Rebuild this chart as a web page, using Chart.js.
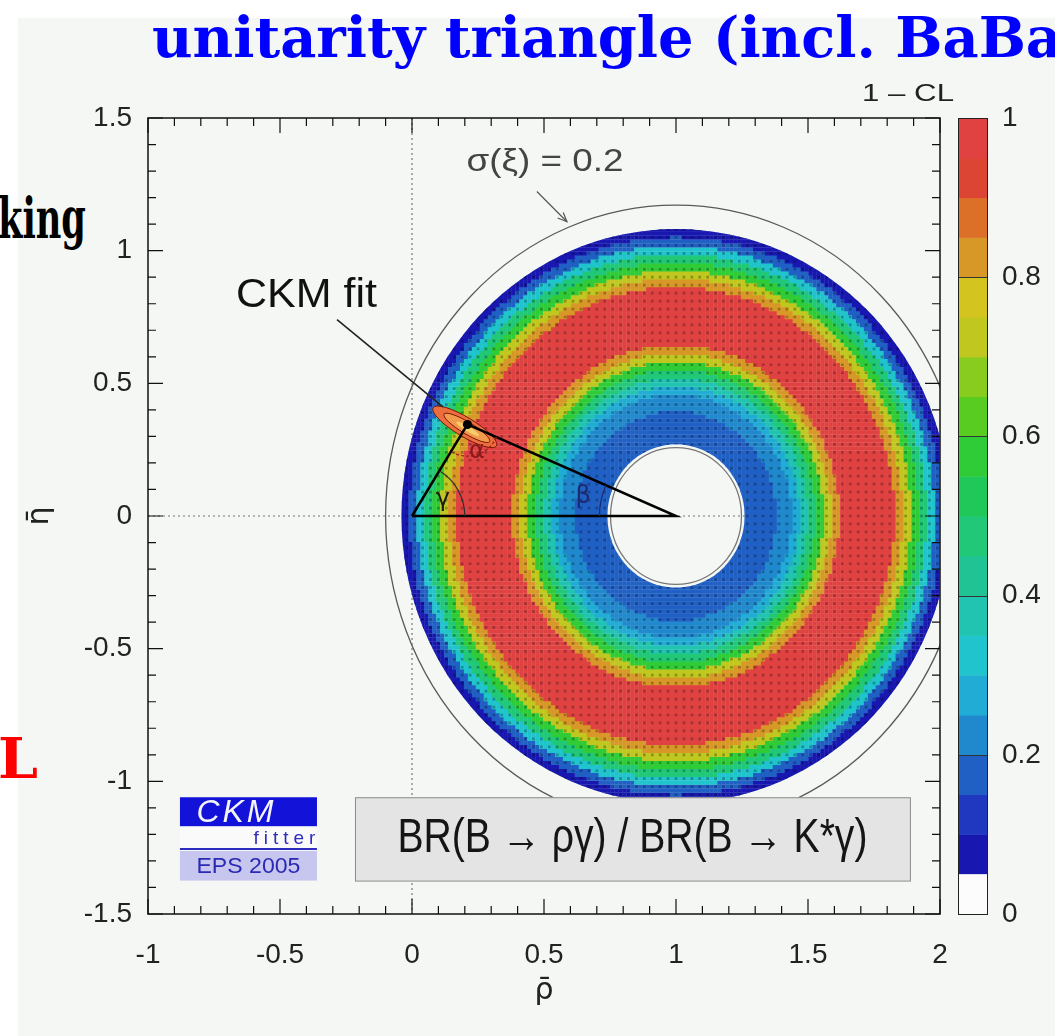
<!DOCTYPE html>
<html>
<head>
<meta charset="utf-8">
<title>CKM unitarity triangle</title>
<script src="https://cdn.jsdelivr.net/npm/chart.js@4.4.1/dist/chart.umd.min.js"></script>
<style>
html, body { margin: 0; padding: 0; background: #fff; }
#wrap { position: relative; width: 1055px; height: 1036px; overflow: hidden; }
#plate { position: absolute; left: 18px; top: 18px; width: 1037px; height: 1018px; background: #f4f7f3; }
#slide, #chart { position: absolute; left: 0; top: 0; }
</style>
</head>
<body>
<div id="wrap">
  <div id="plate"></div>
  <svg id="slide" width="1055" height="1036">
    <text x="152" y="57" font-family="DejaVu Serif" font-weight="bold" font-size="56" fill="#0000ff" textLength="910" lengthAdjust="spacingAndGlyphs">unitarity triangle (incl. BaBa</text>
    <text x="86" y="238" text-anchor="end" font-family="DejaVu Serif" font-weight="bold" font-size="56" fill="#000" textLength="88" lengthAdjust="spacingAndGlyphs">king</text>
    <text x="38" y="778" text-anchor="end" font-family="DejaVu Serif" font-weight="bold" font-size="56" fill="#ff0000" textLength="40" lengthAdjust="spacingAndGlyphs">L</text>
  </svg>
  <canvas id="chart" width="1055" height="1036"></canvas>
</div>
<script>
// axis ticks
var rhoTicks = [-1, -0.5, 0, 0.5, 1, 1.5, 2];
var etaTicks = [-1.5, -1, -0.5, 0, 0.5, 1, 1.5];
var clTicks = [0, 0.2, 0.4, 0.6, 0.8, 1];

// BR(B->rho gamma)/BR(B->K* gamma) ring around (1,0): 1-CL per radial bin
var ringCentre = [1, 0];
var ringInner = 0.26;
var ringBin = 0.03;
var ringCL = [0.15, 0.16, 0.17, 0.18, 0.20, 0.24, 0.29, 0.36, 0.46, 0.57, 0.70, 0.84, 0.96,
              1.0, 1.0, 1.0, 1.0, 1.0, 0.96, 0.83, 0.71, 0.58, 0.45, 0.31, 0.19, 0.09];

// CKM fit triangle (0,0) -> (1,0) -> apex -> (0,0)
var triangleRho = [0, 1, 0.21, 0];
var triangleEta = [0, 0, 0.345, 0];
var fitRho = [0.21];
var fitEta = [0.345];

// the plotted ring is a bit taller than wide
var ringStretch = 1.04;

// 20-level palette like the ROOT one, index = floor(20 * (1-CL))
var palette = ['rgba(0,0,0,0)', '#1818b0', '#2038c0', '#2060c4', '#2088cc', '#20acd4', '#20c4cc',
  '#20c4b0', '#20c494', '#20c878', '#20c85a', '#30cc38', '#58cc20', '#88cc20', '#c0c820',
  '#d4c420', '#d89828', '#dc7028', '#dc4434', '#e04242'];

function darker(hex, f) {
  if (hex.charAt(0) !== '#') return hex;
  var n = parseInt(hex.slice(1), 16);
  var r = Math.round(((n >> 16) & 255) * f), g = Math.round(((n >> 8) & 255) * f), b = Math.round((n & 255) * f);
  return 'rgb(' + r + ',' + g + ',' + b + ')';
}

function binColour(dx, dy) {
  var r = Math.hypot(dx, dy / ringStretch);
  if (r < ringInner - ringBin || r > ringInner + (ringCL.length + 1) * ringBin) return null;
  var k = Math.floor((r - ringInner) / ringBin);
  k = Math.max(0, Math.min(ringCL.length - 1, k));
  return palette[Math.min(19, Math.floor(ringCL[k] * 20))];
}

// fine cells for the colour, coarser lattice of darker dots like the scanned grid
var cells = [], cellColours = [];
var half = ringBin / 2;
for (var i = -80; i <= 80; i++) {
  for (var j = -80; j <= 80; j++) {
    var col = binColour(i * half, j * half);
    if (!col) continue;
    cells.push({x: ringCentre[0] + i * half, y: ringCentre[1] + j * half});
    cellColours.push(col);
  }
}
var dots = [], dotColours = [];
for (var m = -40; m <= 40; m++) {
  for (var q = -40; q <= 40; q++) {
    var c2 = binColour(m * ringBin, q * ringBin);
    if (!c2) continue;
    dots.push({x: ringCentre[0] + m * ringBin, y: ringCentre[1] + q * ringBin});
    dotColours.push(darker(c2, 0.72));
  }
}

var triangle = triangleRho.map(function (v, n) { return {x: v, y: triangleEta[n]}; });
var fit = fitRho.map(function (v, n) { return {x: v, y: fitEta[n]}; });

function P(chart, rho, eta) {
  return [chart.scales.x.getPixelForValue(rho), chart.scales.y.getPixelForValue(eta)];
}
function lenX(chart, d) {
  return chart.scales.x.getPixelForValue(d) - chart.scales.x.getPixelForValue(0);
}
function ringEllipse(ctx, chart, r, stretch) {
  var c = P(chart, ringCentre[0], ringCentre[1]);
  var rx = lenX(chart, r);
  var ry = chart.scales.y.getPixelForValue(0) - chart.scales.y.getPixelForValue(r * (stretch || ringStretch));
  ctx.moveTo(c[0] + rx, c[1]);
  ctx.ellipse(c[0], c[1], rx, ry, 0, 0, 2 * Math.PI);
}
function fitText(ctx, str, x, y, font, width, colour) {
  ctx.save();
  ctx.font = font;
  ctx.fillStyle = colour;
  ctx.textAlign = 'center';
  ctx.textBaseline = 'middle';
  var w = ctx.measureText(str).width;
  ctx.translate(x, y);
  if (width) ctx.scale(width / w, 1);
  ctx.fillText(str, 0, 0);
  ctx.restore();
}

var ringOuter = ringInner + ringCL.length * ringBin;

var ckmPlugin = {
  id: 'ckm',
  beforeDatasetsDraw: function (chart) {
    var ctx = chart.ctx, a = chart.chartArea;
    var o = P(chart, 0, 0);
    ctx.save();
    ctx.strokeStyle = '#777';
    ctx.lineWidth = 1.2;
    ctx.setLineDash([2, 3]);
    ctx.beginPath();
    ctx.moveTo(o[0], a.top); ctx.lineTo(o[0], a.bottom);
    ctx.moveTo(a.left, o[1]); ctx.lineTo(a.right, o[1]);
    ctx.stroke();
    ctx.restore();
  },
  beforeDatasetDraw: function (chart, args) {
    if (args.index > 1) return;
    var ctx = chart.ctx;
    ctx.save();
    ctx.beginPath();
    ringEllipse(ctx, chart, ringOuter);
    ringEllipse(ctx, chart, ringInner);
    ctx.clip('evenodd');
  },
  afterDatasetDraw: function (chart, args) {
    if (args.index > 1) return;
    var ctx = chart.ctx, a = chart.chartArea;
    ctx.restore();
    if (args.index !== 1) return;
    // thin circles
    ctx.save();
    ctx.beginPath();
    ctx.rect(a.left, a.top, a.right - a.left, a.bottom - a.top);
    ctx.clip();
    ctx.strokeStyle = '#5a5a5a';
    ctx.lineWidth = 1.3;
    ctx.beginPath(); ringEllipse(ctx, chart, 1.10, 1.065); ctx.stroke();
    ctx.strokeStyle = '#777';
    ctx.beginPath(); ringEllipse(ctx, chart, 0.248); ctx.stroke();
    // CKM fit region
    var c = P(chart, 0.20, 0.336);
    var e = P(chart, 0.20 + 0.14 * Math.cos(-0.54), 0.336 + 0.14 * Math.sin(-0.54));
    var rot = Math.atan2(e[1] - c[1], e[0] - c[0]);
    var len = Math.hypot(e[0] - c[0], e[1] - c[1]);
    ctx.lineWidth = 1;
    ctx.fillStyle = '#ec6e3c'; ctx.strokeStyle = '#7a1508';
    ctx.beginPath(); ctx.ellipse(c[0], c[1], len, len * 0.26, rot, 0, 2 * Math.PI); ctx.fill(); ctx.stroke();
    ctx.fillStyle = '#f29a4c';
    ctx.beginPath(); ctx.ellipse(c[0] + 2, c[1] + 1, len * 0.72, len * 0.16, rot, 0, 2 * Math.PI); ctx.fill(); ctx.stroke();
    ctx.fillStyle = '#f8cc6a';
    ctx.beginPath(); ctx.ellipse(c[0] + 3, c[1] + 2, len * 0.36, len * 0.07, rot, 0, 2 * Math.PI); ctx.fill();
    ctx.restore();
  },
  afterDatasetsDraw: function (chart) {
    var ctx = chart.ctx, a = chart.chartArea;
    var O = P(chart, 0, 0), B = P(chart, 1, 0), A = P(chart, fitRho[0], fitEta[0]);
    ctx.save();
    // angle arcs
    ctx.lineWidth = 1.2;
    ctx.strokeStyle = '#303030';
    ctx.beginPath(); ctx.arc(O[0], O[1], lenX(chart, 0.2), Math.atan2(A[1] - O[1], A[0] - O[0]), 0); ctx.stroke();
    ctx.strokeStyle = '#9a1e1e'; ctx.setLineDash([3, 2]);
    ctx.beginPath(); ctx.arc(A[0], A[1], lenX(chart, 0.12), Math.atan2(B[1] - A[1], B[0] - A[0]), Math.atan2(O[1] - A[1], O[0] - A[0])); ctx.stroke();
    ctx.setLineDash([]);
    ctx.strokeStyle = '#1c2a70';
    ctx.beginPath(); ctx.arc(B[0], B[1], lenX(chart, 0.29), -Math.PI, Math.atan2(A[1] - B[1], A[0] - B[0])); ctx.stroke();
    ctx.font = '24px "DejaVu Sans"';
    ctx.textAlign = 'center'; ctx.textBaseline = 'middle';
    var p = P(chart, 0.246, 0.242); ctx.fillStyle = '#8a1a1a'; ctx.fillText('α', p[0], p[1]);
    p = P(chart, 0.117, 0.06); ctx.fillStyle = '#1a1a1a'; ctx.fillText('γ', p[0], p[1]);
    p = P(chart, 0.648, 0.072); ctx.fillStyle = '#1c2a70'; ctx.fillText('β', p[0], p[1]);

    // CKM fit label and pointer
    p = P(chart, -0.40, 0.83);
    fitText(ctx, 'CKM fit', p[0], p[1], '40px "Liberation Sans"', 141, '#111');
    var p1 = P(chart, -0.284, 0.74), p2 = P(chart, 0.117, 0.411);
    ctx.strokeStyle = '#222'; ctx.lineWidth = 1.6;
    ctx.beginPath(); ctx.moveTo(p1[0], p1[1]); ctx.lineTo(p2[0], p2[1]); ctx.stroke();

    // sigma(xi) label and arrow
    p = P(chart, 0.504, 1.332);
    fitText(ctx, 'σ(ξ) = 0.2', p[0], p[1], '31px "Liberation Sans"', 157, '#444');
    p1 = P(chart, 0.473, 1.223); p2 = P(chart, 0.587, 1.109);
    ctx.strokeStyle = '#555'; ctx.lineWidth = 1.2;
    ctx.beginPath(); ctx.moveTo(p1[0], p1[1]); ctx.lineTo(p2[0], p2[1]); ctx.stroke();
    var ang = Math.atan2(p2[1] - p1[1], p2[0] - p1[0]);
    ctx.beginPath();
    ctx.moveTo(p2[0] - 10 * Math.cos(ang - 0.4), p2[1] - 10 * Math.sin(ang - 0.4));
    ctx.lineTo(p2[0], p2[1]);
    ctx.lineTo(p2[0] - 10 * Math.cos(ang + 0.4), p2[1] - 10 * Math.sin(ang + 0.4));
    ctx.stroke();

    // constraint legend box
    var b1 = P(chart, -0.216, -1.060), b2 = P(chart, 1.886, -1.374);
    ctx.fillStyle = '#e3e4e3'; ctx.strokeStyle = '#8a8a8a'; ctx.lineWidth = 1;
    ctx.fillRect(b1[0], b1[1], b2[0] - b1[0], b2[1] - b1[1]);
    ctx.strokeRect(b1[0] + 0.5, b1[1] + 0.5, b2[0] - b1[0], b2[1] - b1[1]);
    fitText(ctx, 'BR(B \u2192 ργ) / BR(B \u2192 K*γ)', (b1[0] + b2[0]) / 2, (b1[1] + b2[1]) / 2,
      '48px "Liberation Sans Narrow", "Liberation Sans"', 470, '#151515');

    // CKMfitter logo
    var l1 = P(chart, -0.879, -1.060), l2 = P(chart, -0.36, -1.170);
    ctx.fillStyle = '#1212d8';
    ctx.fillRect(l1[0], l1[1], l2[0] - l1[0], l2[1] - l1[1]);
    ctx.font = 'italic 32px "Liberation Sans"';
    ctx.fillStyle = '#f4f4ff';
    ctx.textAlign = 'center';
    if ('letterSpacing' in ctx) ctx.letterSpacing = '3px';
    ctx.fillText('CKM', (l1[0] + l2[0]) / 2 - 12, (l1[1] + l2[1]) / 2 + 1);
    var l3 = P(chart, -0.879, -1.255);
    ctx.fillStyle = '#fafafa';
    ctx.fillRect(l1[0], l2[1], l2[0] - l1[0], l3[1] - l2[1]);
    ctx.font = '19px "Liberation Sans"';
    ctx.fillStyle = '#2c2cc0';
    if ('letterSpacing' in ctx) ctx.letterSpacing = '5px';
    ctx.fillText('fitter', l2[0] - 30, (l2[1] + l3[1]) / 2 + 1);
    if ('letterSpacing' in ctx) ctx.letterSpacing = '0px';
    ctx.strokeStyle = '#2c2cc0'; ctx.lineWidth = 2;
    ctx.beginPath(); ctx.moveTo(l1[0], l3[1]); ctx.lineTo(l2[0], l3[1]); ctx.stroke();
    var l4 = P(chart, -0.36, -1.374);
    ctx.fillStyle = '#c6c6ee';
    ctx.fillRect(l1[0], l3[1] + 2, l4[0] - l1[0], l4[1] - l3[1] - 2);
    fitText(ctx, 'EPS 2005', (l1[0] + l4[0]) / 2, (l3[1] + l4[1]) / 2 + 2, '22px "Liberation Sans"', 104, '#2a2ab4');

    // colour bar
    var cb = chart.scales.cb;
    var x0 = a.right + 18, w = 29;
    for (var n = 1; n < 20; n++) {
      var yTop = cb.getPixelForValue((n + 1) / 20), yBot = cb.getPixelForValue(n / 20);
      ctx.fillStyle = palette[n];
      ctx.fillRect(x0, yTop, w, yBot - yTop + 0.5);
    }
    ctx.fillStyle = '#fbfcfb';
    ctx.fillRect(x0, cb.getPixelForValue(0.05), w, cb.getPixelForValue(0) - cb.getPixelForValue(0.05));
    ctx.strokeStyle = '#333'; ctx.lineWidth = 1;
    [0.2, 0.4, 0.6, 0.8].forEach(function (v) {
      var yy = Math.round(cb.getPixelForValue(v)) + 0.5;
      ctx.beginPath(); ctx.moveTo(x0, yy); ctx.lineTo(x0 + w, yy); ctx.stroke();
    });
    ctx.strokeStyle = '#222';
    ctx.strokeRect(x0 + 0.5, a.top + 0.5, w, a.bottom - a.top);
    fitText(ctx, '1 \u2013 CL', a.right - 32, a.top - 24, '24px "Liberation Sans"', 92, '#222');

    // frame with inward ticks
    ctx.strokeStyle = '#111'; ctx.lineWidth = 1.5;
    ctx.strokeRect(a.left, a.top, a.right - a.left, a.bottom - a.top);
    ctx.lineWidth = 1.2;
    ctx.beginPath();
    for (var kx = -10; kx <= 20; kx++) {
      var px = chart.scales.x.getPixelForValue(kx / 10), tl = kx % 5 === 0 ? 15 : 8;
      ctx.moveTo(px, a.bottom); ctx.lineTo(px, a.bottom - tl);
      ctx.moveTo(px, a.top); ctx.lineTo(px, a.top + tl);
    }
    for (var ky = -15; ky <= 15; ky++) {
      var py = chart.scales.y.getPixelForValue(ky / 10), tl2 = ky % 5 === 0 ? 15 : 8;
      ctx.moveTo(a.left, py); ctx.lineTo(a.left + tl2, py);
      ctx.moveTo(a.right, py); ctx.lineTo(a.right - tl2, py);
    }
    ctx.stroke();
    ctx.restore();
  }
};

Chart.defaults.font.family = '"Liberation Sans", Arial, sans-serif';

var tickFont = {family: '"Liberation Sans", Arial, sans-serif', size: 28};

var chart = new Chart(document.getElementById('chart'), {
  type: 'scatter',
  data: {
    datasets: [
      {data: cells, pointStyle: 'rect', pointRadius: 3.1, pointBackgroundColor: cellColours, pointBorderWidth: 0, order: 3, clip: 0},
      {data: dots, pointStyle: 'rect', pointRadius: 1.9, pointBackgroundColor: dotColours, pointBorderWidth: 0, order: 2, clip: 0},
      {data: triangle, showLine: true, borderColor: '#000', borderWidth: 2.5, pointRadius: 0, order: 1},
      {data: fit, pointRadius: 4.5, pointBackgroundColor: '#000', pointBorderWidth: 0, order: 0}
    ]
  },
  options: {
    responsive: false,
    animation: false,
    devicePixelRatio: 1,
    events: [],
    layout: {padding: {top: 118, left: 0, right: 0, bottom: 0}},
    plugins: {legend: {display: false}, tooltip: {enabled: false}},
    scales: {
      x: {
        type: 'linear', min: -1, max: 2,
        afterFit: function (s) { s.height = 122; },
        afterBuildTicks: function (s) { s.ticks = rhoTicks.map(function (v) { return {value: v}; }); },
        grid: {display: false, drawTicks: false}, border: {display: false},
        ticks: {font: tickFont, color: '#222', padding: 24, maxRotation: 0, callback: function (v) { return String(v); }},
        title: {display: true, text: 'ρ\u0304', font: {family: '"DejaVu Sans"', size: 30}, color: '#222', padding: {top: 0, bottom: 27}}
      },
      y: {
        type: 'linear', min: -1.5, max: 1.5,
        afterFit: function (s) { s.width = 148; },
        afterBuildTicks: function (s) { s.ticks = etaTicks.map(function (v) { return {value: v}; }); },
        grid: {display: false, drawTicks: false}, border: {display: false},
        ticks: {font: tickFont, color: '#222', padding: 16, callback: function (v) { return String(v); }},
        title: {display: true, text: 'η\u0304', font: {family: '"DejaVu Sans"', size: 30}, color: '#222', padding: {top: 22, bottom: 0}}
      },
      cb: {
        type: 'linear', position: 'right', min: 0, max: 1,
        afterFit: function (s) { s.width = 115; },
        afterBuildTicks: function (s) { s.ticks = clTicks.map(function (v) { return {value: v}; }); },
        grid: {display: false, drawTicks: false}, border: {display: false},
        ticks: {font: tickFont, color: '#222', padding: 62, callback: function (v) { return String(v); }}
      }
    }
  },
  plugins: [ckmPlugin]
});
</script>
</body>
</html>
